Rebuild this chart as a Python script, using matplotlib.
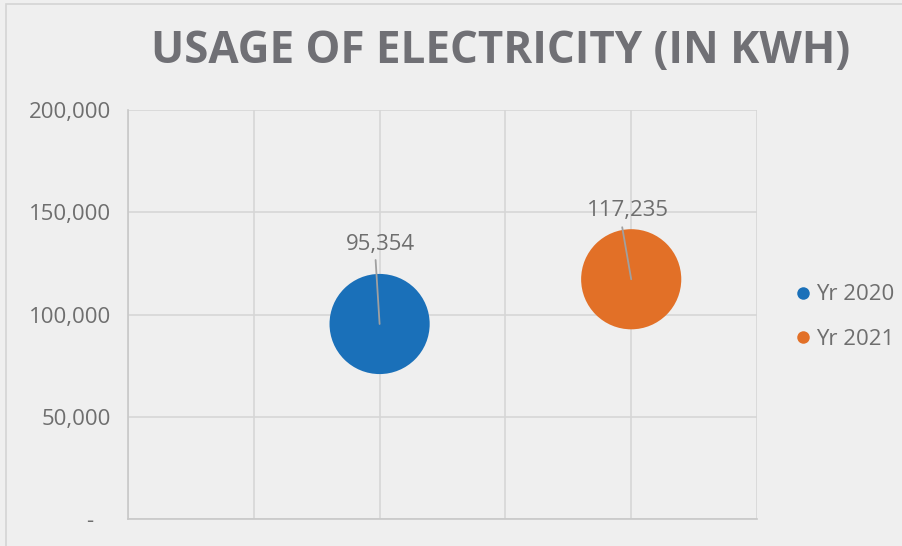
import matplotlib
matplotlib.use('Agg')
import matplotlib.pyplot as plt
from matplotlib.patches import Rectangle
from matplotlib.lines import Line2D

# data
years = ['Yr 2020', 'Yr 2021']
x_pos = [2, 4]
usage = [95354, 117235]
bubble_size = [1, 1]
colors = ['#1a70b9', '#e27027']
yticks = [0, 50000, 100000, 150000, 200000]
ytick_labels = ['-   ', '50,000', '100,000', '150,000', '200,000']

plt.rcParams['font.family'] = ['Open Sans', 'DejaVu Sans']
text_gray = '#6e6e6e'
grid_gray = '#d6d6d6'

fig = plt.figure(figsize=(9.02, 5.46), dpi=100)
fig.patch.set_facecolor('#efefef')
W, H = 902, 546

# chart area border
fig.patches.append(Rectangle((6 / W, -0.1), 1.2, (546 - 4) / H + 0.1,
                             transform=fig.transFigure, fill=False,
                             edgecolor='#d4d4d4', linewidth=1.2))

ax = fig.add_axes([128 / W, (546 - 519) / H, (757 - 128) / W, (519 - 110) / H])
ax.set_facecolor('none')
ax.set_xlim(0, 5)
ax.set_ylim(0, 200000)
ax.set_xticks(range(6))
ax.set_yticks(yticks)
ax.set_yticklabels(ytick_labels)
ax.tick_params(axis='x', length=0, labelbottom=False)
ax.tick_params(axis='y', length=0, pad=12, labelsize=16, labelcolor=text_gray)
ax.grid(True, color=grid_gray, linewidth=1.2)
ax.set_axisbelow(True)
for s in ['top', 'right']:
    ax.spines[s].set_visible(False)
for s in ['left', 'bottom']:
    ax.spines[s].set_color('#c8c8c8')
    ax.spines[s].set_linewidth(1.2)

# bubbles
for i in range(len(years)):
    ax.scatter(x_pos[i], usage[i], s=bubble_size[i] * 5200, color=colors[i],
               edgecolors='none', zorder=3)

# data labels with leader lines
label_off = [(1, 80), (-3, 69)]
line_off = [(-4, 64), (-9, 52)]
for i in range(len(years)):
    ax.annotate('', xy=(x_pos[i], usage[i]), xytext=line_off[i],
                textcoords='offset pixels',
                arrowprops=dict(arrowstyle='-', color='#a0a0a0', lw=1.3,
                                shrinkA=0, shrinkB=0), zorder=4)
    ax.annotate(f'{usage[i]:,}', xy=(x_pos[i], usage[i]), xytext=label_off[i],
                textcoords='offset pixels', ha='center', va='center',
                fontsize=16, color=text_gray, zorder=5)

# legend
handles = [Line2D([], [], marker='o', linestyle='none', markersize=9,
                  markerfacecolor=colors[i], markeredgecolor='none')
           for i in range(len(years))]
fig.legend(handles, years, loc='center left', bbox_to_anchor=(785 / W, 1 - 317 / H),
           frameon=False, fontsize=16, labelcolor=text_gray, handlelength=0.6,
           handletextpad=0.3, labelspacing=1.05, borderpad=0)

fig.text(501 / W, 1 - 51 / H, 'USAGE OF ELECTRICITY (IN KWH)', ha='center', va='center',
         fontsize=31.6, fontweight='bold', color='#707075')

fig.savefig('out.png', dpi=100, facecolor=fig.get_facecolor())
